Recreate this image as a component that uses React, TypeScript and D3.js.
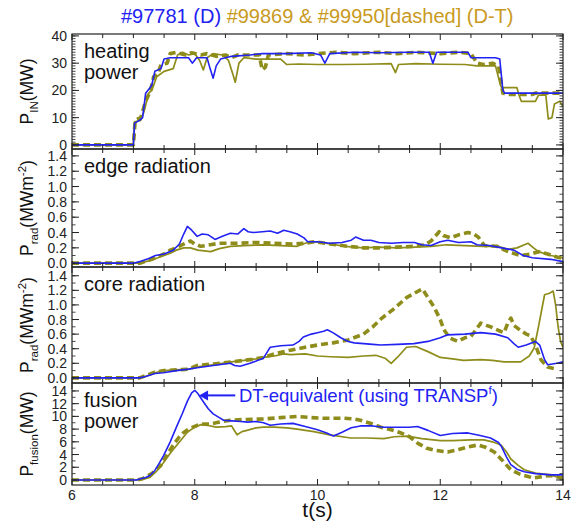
import * as d3 from 'd3'

type Pt = [number, number]

// ---- data ----
const titleParts = ['#97781 (D)', '#99869 & #99950[dashed] (D-T)']
const xTickLabels = [6, 8, 10, 12, 14]
const heatTicks = [0, 10, 20, 30, 40]
const radTicks = [0, 0.2, 0.4, 0.6, 0.8, 1.0, 1.2, 1.4]
const fusionTicks = [0, 2, 4, 6, 8, 10, 12, 14]

// heating power (MW)
const heatD: Pt[] = [[6,0],[7.0,0],[7.02,8],[7.1,9],[7.15,10],[7.2,19],[7.27,21],[7.3,22],[7.35,27],[7.45,28],[7.5,31.5],[7.6,32],[7.9,32],[7.96,30],[8.03,32],[8.2,32],[8.25,28],[8.3,24.5],[8.35,29],[8.42,31.5],[8.6,32.5],[8.9,33],[9.1,33.5],[9.5,33.5],[9.9,33.8],[10.05,33],[10.12,30],[10.2,33.5],[10.6,34],[11.0,33.8],[11.5,34],[11.82,34],[11.88,30],[11.94,34],[12.45,34],[12.5,32],[12.9,32],[12.97,31.5],[13.02,20],[13.05,19],[14,19]]
const heatDT: Pt[] = [[6,0],[7.0,0],[7.02,8.5],[7.12,9],[7.17,12],[7.25,19],[7.3,20],[7.38,25],[7.5,27],[7.65,28],[7.72,33],[7.8,34],[7.9,33],[8.0,33.5],[8.08,31],[8.14,27.5],[8.2,32],[8.3,33.5],[8.45,33],[8.55,31],[8.62,26],[8.66,23],[8.72,30],[8.8,32],[9.0,31.5],[9.2,31.5],[9.4,31.5],[9.5,29.5],[9.7,29.7],[10,29.5],[10.4,29.5],[10.8,29.6],[11.2,29.8],[11.27,26.5],[11.32,29.5],[11.6,29.8],[12.0,29.6],[12.4,29.5],[12.6,29],[12.9,29],[12.98,22],[13.0,21],[13.25,21],[13.28,18.5],[13.32,16],[13.55,16],[13.6,18.3],[13.72,18.3],[13.76,9.5],[13.82,10],[13.86,15],[13.95,16],[14,14]]
const heatDTdash: Pt[] = [[6,0],[7.0,0],[7.03,9],[7.12,10],[7.2,16],[7.28,20],[7.33,25],[7.4,26],[7.45,29.5],[7.55,30],[7.6,33.5],[7.7,34],[7.85,33],[7.95,33.8],[8.1,33],[8.2,33.5],[8.35,32.5],[8.5,33],[8.6,32],[8.7,33],[8.9,33],[9.05,33],[9.1,27.5],[9.15,28.5],[9.2,33],[9.5,33.5],[9.8,33],[10.0,33.5],[10.3,34],[10.6,33.5],[11.0,34],[11.3,33.5],[11.6,34],[12.0,33.5],[12.3,34],[12.5,33.5],[12.6,30],[12.7,29.5],[12.85,30],[12.95,29],[13.02,19],[13.1,18.5],[13.5,18.5],[13.55,19],[14,19]]

// edge radiation (MW m^-2)
const edgeD: Pt[] = [[6,0],[7.0,0],[7.1,0.02],[7.25,0.06],[7.36,0.1],[7.5,0.12],[7.65,0.17],[7.75,0.25],[7.82,0.38],[7.88,0.48],[7.95,0.43],[8.04,0.35],[8.12,0.38],[8.22,0.37],[8.33,0.31],[8.45,0.35],[8.58,0.39],[8.7,0.38],[8.8,0.45],[8.87,0.41],[8.95,0.4],[9.1,0.41],[9.23,0.42],[9.35,0.39],[9.45,0.43],[9.55,0.41],[9.67,0.38],[9.78,0.33],[9.84,0.28],[10.0,0.28],[10.2,0.26],[10.4,0.27],[10.55,0.3],[10.62,0.34],[10.75,0.3],[10.87,0.3],[11.0,0.27],[11.2,0.26],[11.4,0.27],[11.58,0.27],[11.7,0.24],[11.85,0.23],[12.0,0.28],[12.12,0.3],[12.3,0.27],[12.5,0.28],[12.6,0.24],[12.8,0.23],[13.0,0.2],[13.2,0.17],[13.35,0.1],[13.5,0.07],[13.8,0.05],[14,0.02]]
const edgeDT: Pt[] = [[6,0],[7.1,0],[7.25,0.03],[7.4,0.07],[7.5,0.1],[7.6,0.13],[7.7,0.17],[7.82,0.2],[7.93,0.2],[8.05,0.17],[8.26,0.15],[8.4,0.19],[8.58,0.22],[8.8,0.23],[9.12,0.24],[9.4,0.23],[9.67,0.22],[9.8,0.26],[9.89,0.28],[10.05,0.27],[10.21,0.25],[10.45,0.22],[10.75,0.2],[11.0,0.21],[11.3,0.2],[11.6,0.21],[11.85,0.22],[12.1,0.24],[12.4,0.23],[12.7,0.22],[12.94,0.22],[13.1,0.18],[13.25,0.2],[13.43,0.26],[13.52,0.2],[13.6,0.15],[13.8,0.1],[14,0.07]]
const edgeDTdash: Pt[] = [[6,0],[7.1,0],[7.3,0.05],[7.5,0.12],[7.6,0.17],[7.7,0.2],[7.82,0.25],[7.93,0.29],[8.0,0.25],[8.1,0.22],[8.25,0.24],[8.4,0.26],[8.7,0.26],[9.0,0.27],[9.3,0.26],[9.6,0.25],[9.8,0.26],[9.95,0.28],[10.2,0.25],[10.5,0.22],[10.75,0.2],[11.0,0.2],[11.3,0.21],[11.57,0.22],[11.75,0.24],[11.85,0.29],[11.95,0.38],[11.98,0.41],[12.05,0.36],[12.17,0.33],[12.3,0.37],[12.45,0.4],[12.55,0.38],[12.62,0.34],[12.72,0.23],[12.93,0.22],[13.05,0.17],[13.15,0.14],[13.3,0.1],[13.48,0.12],[13.6,0.15],[13.75,0.12],[13.9,0.08],[14,0.06]]

// core radiation (MW m^-2)
const coreD: Pt[] = [[6,0],[7.1,0],[7.2,0.02],[7.35,0.06],[7.49,0.07],[7.7,0.1],[7.9,0.12],[8.04,0.14],[8.3,0.17],[8.58,0.2],[8.65,0.17],[8.74,0.16],[8.9,0.2],[9.0,0.23],[9.12,0.27],[9.2,0.38],[9.23,0.42],[9.4,0.44],[9.6,0.45],[9.7,0.5],[9.77,0.56],[9.9,0.6],[10.0,0.62],[10.1,0.64],[10.16,0.66],[10.25,0.62],[10.38,0.55],[10.5,0.5],[10.6,0.48],[10.75,0.47],[10.9,0.46],[11.03,0.45],[11.3,0.46],[11.57,0.47],[11.8,0.5],[12.0,0.55],[12.12,0.59],[12.4,0.6],[12.66,0.62],[12.9,0.6],[13.1,0.55],[13.2,0.47],[13.27,0.42],[13.4,0.45],[13.55,0.5],[13.62,0.45],[13.7,0.25],[13.75,0.18],[13.9,0.2],[14,0.22]]
const coreDT: Pt[] = [[6,0],[7.1,0],[7.2,0.02],[7.35,0.07],[7.5,0.1],[7.7,0.11],[7.9,0.12],[8.04,0.15],[8.3,0.18],[8.6,0.22],[8.8,0.24],[9.0,0.26],[9.12,0.28],[9.3,0.3],[9.45,0.33],[9.56,0.32],[9.8,0.33],[10.0,0.3],[10.21,0.29],[10.5,0.28],[10.75,0.3],[10.95,0.31],[11.1,0.27],[11.2,0.2],[11.3,0.28],[11.45,0.42],[11.6,0.43],[11.8,0.36],[12.0,0.28],[12.2,0.26],[12.38,0.24],[12.66,0.25],[12.85,0.24],[13.04,0.22],[13.31,0.22],[13.45,0.3],[13.53,0.41],[13.6,0.7],[13.7,1.14],[13.78,1.16],[13.84,1.19],[13.88,1.0],[13.92,0.7],[13.96,0.5],[14,0.42]]
const coreDTdash: Pt[] = [[6,0],[7.1,0],[7.2,0.03],[7.35,0.08],[7.5,0.1],[7.7,0.11],[7.9,0.12],[8.04,0.17],[8.3,0.19],[8.6,0.22],[8.9,0.25],[9.12,0.28],[9.3,0.33],[9.56,0.38],[9.8,0.42],[10.0,0.45],[10.25,0.48],[10.5,0.52],[10.75,0.6],[10.9,0.7],[11.05,0.82],[11.25,0.95],[11.45,1.1],[11.6,1.17],[11.71,1.22],[11.8,1.1],[11.9,0.97],[12.0,0.8],[12.06,0.66],[12.15,0.55],[12.28,0.5],[12.4,0.55],[12.5,0.57],[12.6,0.68],[12.66,0.75],[12.75,0.72],[12.82,0.7],[12.95,0.65],[13.04,0.62],[13.1,0.75],[13.15,0.82],[13.2,0.72],[13.31,0.65],[13.4,0.6],[13.47,0.58],[13.55,0.45],[13.64,0.25],[13.75,0.15],[13.85,0.13]]

// fusion power (MW)
const fusD: Pt[] = [[6,0],[7.05,0],[7.12,0.2],[7.2,0.4],[7.27,0.7],[7.35,1.5],[7.42,2.6],[7.49,3.8],[7.6,6],[7.71,8.5],[7.8,10.5],[7.88,12.4],[7.95,13.7],[8.0,14.1],[8.05,13.6],[8.14,12.3],[8.22,11.2],[8.3,10.4],[8.4,9.8],[8.47,9.4],[8.6,9.3],[8.75,9.2],[8.86,9.1],[9.0,9.2],[9.12,9.0],[9.23,8.6],[9.4,8.8],[9.6,8.9],[9.8,8.4],[10.0,7.9],[10.15,7.4],[10.26,6.9],[10.4,7.5],[10.55,8.2],[10.7,8.5],[10.9,8.5],[11.08,8.3],[11.3,8.3],[11.5,8.3],[11.63,8.4],[11.8,7.8],[12.0,7.0],[12.2,7.3],[12.45,7.4],[12.65,7.0],[12.82,6.6],[12.95,5.9],[13.0,5.2],[13.08,3.6],[13.15,2.4],[13.25,1.7],[13.37,1.3],[13.55,1.0],[13.8,0.8],[14,0.8]]
const fusDT: Pt[] = [[6,0],[7.05,0],[7.15,0.1],[7.27,0.4],[7.38,1.4],[7.49,2.7],[7.6,4.2],[7.76,6.1],[7.88,7.5],[7.98,8.2],[8.1,8.7],[8.2,8.6],[8.35,8.3],[8.5,8.4],[8.6,8.5],[8.65,7.7],[8.69,7.1],[8.77,7.6],[8.85,7.8],[9.0,8.2],[9.12,8.3],[9.3,8.3],[9.5,8.2],[9.67,8.0],[9.94,7.6],[10.2,7.1],[10.54,6.6],[10.8,6.6],[11.08,6.5],[11.25,6.8],[11.46,6.9],[11.7,6.5],[12.0,6.2],[12.2,6.2],[12.5,6.3],[12.71,6.3],[12.85,6.0],[12.99,5.5],[13.08,4.4],[13.15,3.3],[13.27,2.3],[13.37,1.6],[13.55,1.1],[13.8,0.8],[13.95,0.3],[14,0.2]]
const fusDTdash: Pt[] = [[6,0],[7.05,0],[7.15,0.2],[7.3,1.0],[7.44,2.2],[7.55,4.0],[7.65,5.5],[7.75,6.8],[7.81,7.4],[7.9,8.0],[8.04,8.6],[8.15,8.8],[8.25,8.8],[8.4,9.1],[8.58,9.4],[8.8,9.5],[9.12,9.6],[9.4,9.8],[9.67,10.0],[9.9,9.8],[10.1,9.7],[10.43,9.7],[10.6,9.6],[10.7,9.4],[10.9,8.8],[11.03,8.3],[11.2,7.9],[11.36,7.4],[11.5,6.8],[11.63,5.8],[11.78,5.0],[11.9,4.7],[12.12,4.4],[12.3,4.8],[12.45,5.2],[12.61,5.5],[12.75,5.1],[12.88,4.4],[13.0,3.2],[13.15,1.6],[13.3,0.9],[13.52,0.3],[13.7,0.6],[13.8,0.7],[13.95,0.4],[14,0.3]]

// ---- styling ----
const BLUE = '#2222f2'
const OLIVE = '#8e8c1a'
const GOLD = '#c99a22'
const FONT = '"Liberation Sans", Arial, Helvetica, sans-serif'

const W = 571
const H = 524
const X0 = 72
const X1 = 563

const x = d3.scaleLinear().domain([6, 14]).range([X0, X1])
const xTicks = d3.range(6, 14.001, 0.5)

type Sub = { text: string; kind?: 'sub' | 'sup' }

interface PanelProps {
  id: string
  top: number
  bottom: number
  domain: [number, number]
  ticks: number[]
  minorStep: number
  fmt: (v: number) => string
  name: string[]
  yLabel: Sub[]
  d: Pt[]
  dt: Pt[]
  dtDash: Pt[]
  showXLabels?: boolean
  children?: (y: d3.ScaleLinear<number, number>) => any
}

function YLabel({ parts, cx, cy }: { parts: Sub[]; cx: number; cy: number }) {
  let shift = 0
  return (
    <text transform={`translate(${cx},${cy}) rotate(-90)`} textAnchor="middle" fontSize={17.5} fontFamily={FONT} fill="#111">
      {parts.map((p, i) => {
        const target = p.kind === 'sub' ? 5 : p.kind === 'sup' ? -7 : 0
        const dy = target - shift
        shift = target
        return (
          <tspan key={i} dy={dy} fontSize={p.kind ? 11.5 : 17.5}>{p.text}</tspan>
        )
      })}
    </text>
  )
}

function Panel(props: PanelProps) {
  const { id, top, bottom, domain, ticks, minorStep, fmt, name, yLabel, d, dt, dtDash, showXLabels } = props
  const y = d3.scaleLinear().domain(domain).range([bottom, top])
  const line = d3.line<Pt>().x(p => x(p[0])).y(p => y(p[1]))
  const maxTick = ticks[ticks.length - 1]
  const minor = d3.range(0, Math.round(maxTick / minorStep) + 1).map(i => i * minorStep)
  return (
    <g>
      <defs>
        <clipPath id={id}>
          <rect x={X0} y={top} width={X1 - X0} height={bottom - top} />
        </clipPath>
      </defs>
      <g clipPath={`url(#${id})`} fill="none" strokeLinejoin="round">
        <path d={line(dtDash) || ''} stroke={OLIVE} strokeWidth={3.6} strokeDasharray="7,4" />
        <path d={line(dt) || ''} stroke={OLIVE} strokeWidth={1.7} />
        <path d={line(d) || ''} stroke={BLUE} strokeWidth={1.6} />
      </g>
      {/* frame */}
      <rect x={X0} y={top} width={X1 - X0} height={bottom - top} fill="none" stroke="#222" strokeWidth={1.2} />
      {/* y ticks, both sides */}
      {minor.map((v, i) => (
        <g key={'m' + i} stroke="#333" strokeWidth={0.9}>
          <line x1={X0} x2={X0 + 3.5} y1={y(v)} y2={y(v)} />
          <line x1={X1} x2={X1 - 3.5} y1={y(v)} y2={y(v)} />
        </g>
      ))}
      {ticks.map((v, i) => (
        <g key={'t' + i}>
          <line x1={X0} x2={X0 + 7} y1={y(v)} y2={y(v)} stroke="#222" strokeWidth={1} />
          <line x1={X1} x2={X1 - 7} y1={y(v)} y2={y(v)} stroke="#222" strokeWidth={1} />
          <text x={X0 - 5} y={y(v)} dy="0.36em" textAnchor="end" fontSize={14} fontFamily={FONT} fill="#222">{fmt(v)}</text>
        </g>
      ))}
      {/* x ticks top and bottom */}
      {xTicks.map((t, i) => {
        const len = t % 2 === 0 ? 6 : 4
        return (
          <g key={'x' + i} stroke="#222" strokeWidth={1}>
            <line x1={x(t)} x2={x(t)} y1={bottom} y2={bottom - len} />
            <line x1={x(t)} x2={x(t)} y1={top} y2={top + len} />
          </g>
        )
      })}
      {showXLabels && xTickLabels.map(t => (
        <text key={'xl' + t} x={x(t)} y={bottom + 15} textAnchor="middle" fontSize={14} fontFamily={FONT} fill="#222">{t}</text>
      ))}
      {/* panel name */}
      <text x={X0 + 12} y={top + 24} fontSize={20} fontFamily={FONT} fill="#111">
        {name.map((n, i) => (
          <tspan key={i} x={X0 + 12} dy={i === 0 ? 0 : 21}>{n}</tspan>
        ))}
      </text>
      <YLabel parts={yLabel} cx={33} cy={(top + bottom) / 2} />
      {props.children && props.children(y)}
    </g>
  )
}

export default function App() {
  const f0 = (v: number) => d3.format('d')(v)
  const f1 = (v: number) => d3.format('.1f')(v)
  return (
    <svg width={W} height={H} style={{ position: 'absolute', left: 0, top: 0, background: '#fff' }}>
      <text x={121} y={23} fontSize={20} fontFamily={FONT}>
        <tspan fill={BLUE}>{titleParts[0]}</tspan>
        <tspan fill={GOLD}> {titleParts[1]}</tspan>
      </text>
      <Panel id="c1" top={34} bottom={149} domain={[-1.5, 40.7]} ticks={heatTicks} minorStep={1} fmt={f0}
        name={['heating', 'power']} yLabel={[{ text: 'P' }, { text: 'IN', kind: 'sub' }, { text: '(MW)' }]}
        d={heatD} dt={heatDT} dtDash={heatDTdash} />
      <Panel id="c2" top={149} bottom={267} domain={[-0.05, 1.49]} ticks={radTicks} minorStep={0.1} fmt={f1}
        name={['edge radiation']} yLabel={[{ text: 'P' }, { text: 'rad', kind: 'sub' }, { text: '(MWm' }, { text: '-2', kind: 'sup' }, { text: ')' }]}
        d={edgeD} dt={edgeDT} dtDash={edgeDTdash} />
      <Panel id="c3" top={267} bottom={383} domain={[-0.07, 1.52]} ticks={radTicks} minorStep={0.1} fmt={f1}
        name={['core radiation']} yLabel={[{ text: 'P' }, { text: 'rad', kind: 'sub' }, { text: '(MWm' }, { text: '-2', kind: 'sup' }, { text: ')' }]}
        d={coreD} dt={coreDT} dtDash={coreDTdash} />
      <Panel id="c4" top={383} bottom={485} domain={[-0.79, 15.25]} ticks={fusionTicks} minorStep={1} fmt={f0}
        name={['fusion', 'power']} yLabel={[{ text: 'P' }, { text: 'fusion', kind: 'sub' }, { text: '(MW)' }]}
        d={fusD} dt={fusDT} dtDash={fusDTdash} showXLabels>
        {(y) => {
          const ay = y(13.3)
          const tip = x(8.07)
          const tail = x(8.66)
          return (
            <g>
              <line x1={tip + 6} x2={tail} y1={ay} y2={ay} stroke={BLUE} strokeWidth={2} />
              <path d={`M${tip},${ay} l9,-5 l0,10 z`} fill={BLUE} />
              <text x={x(8.72)} y={ay + 7} fontSize={18.5} fontFamily={FONT} fill={BLUE}>
                DT-equivalent (using TRANSP<tspan fontSize={11.5} dy={-8}>f</tspan><tspan dy={8}>)</tspan>
              </text>
            </g>
          )
        }}
      </Panel>
      <text x={x(10)} y={517} textAnchor="middle" fontSize={21} fontFamily={FONT} fill="#111">t(s)</text>
    </svg>
  )
}
